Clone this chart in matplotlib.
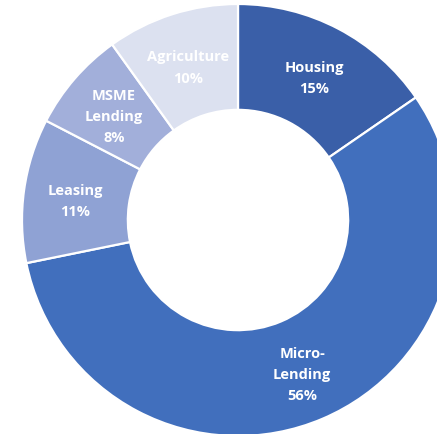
import numpy as np
import matplotlib.pyplot as plt

labels = ["Housing", "Micro-\nLending", "Leasing", "MSME\nLending", "Agriculture"]
# shares as measured from the slice sizes; the labels show them rounded
shares = [15.4, 56.4, 10.8, 7.5, 9.9]
colors = ["#3A5FA8", "#416FBD", "#8FA2D4", "#A2AFDA", "#DCE1F0"]

fig = plt.figure(figsize=(4.37, 4.35), dpi=100)
ax = fig.add_axes([0, 0, 1, 1])

# donut, clockwise from the top
wedges, _ = ax.pie(shares, colors=colors, startangle=90, counterclock=False,
                   radius=1.0, wedgeprops=dict(width=0.49, edgecolor="white", linewidth=1.6))

for w, lab, val in zip(wedges, labels, shares):
    ang = np.deg2rad((w.theta1 + w.theta2) / 2)
    r = 0.76
    ax.text(r * np.cos(ang), r * np.sin(ang) - 0.015, f"{lab}\n{val:.0f}%", ha="center", va="center",
            color="white", fontsize=10.5, fontweight="bold", family="Open Sans",
            linespacing=1.65)

# the picture is cropped a bit on the right and bottom
ax.set_xlim(-238 / 216, (437 - 238) / 216)
ax.set_ylim(-(435 - 221) / 216, 221 / 216)
ax.set_aspect("auto")
ax.axis("off")

fig.savefig("out.png", dpi=100)
